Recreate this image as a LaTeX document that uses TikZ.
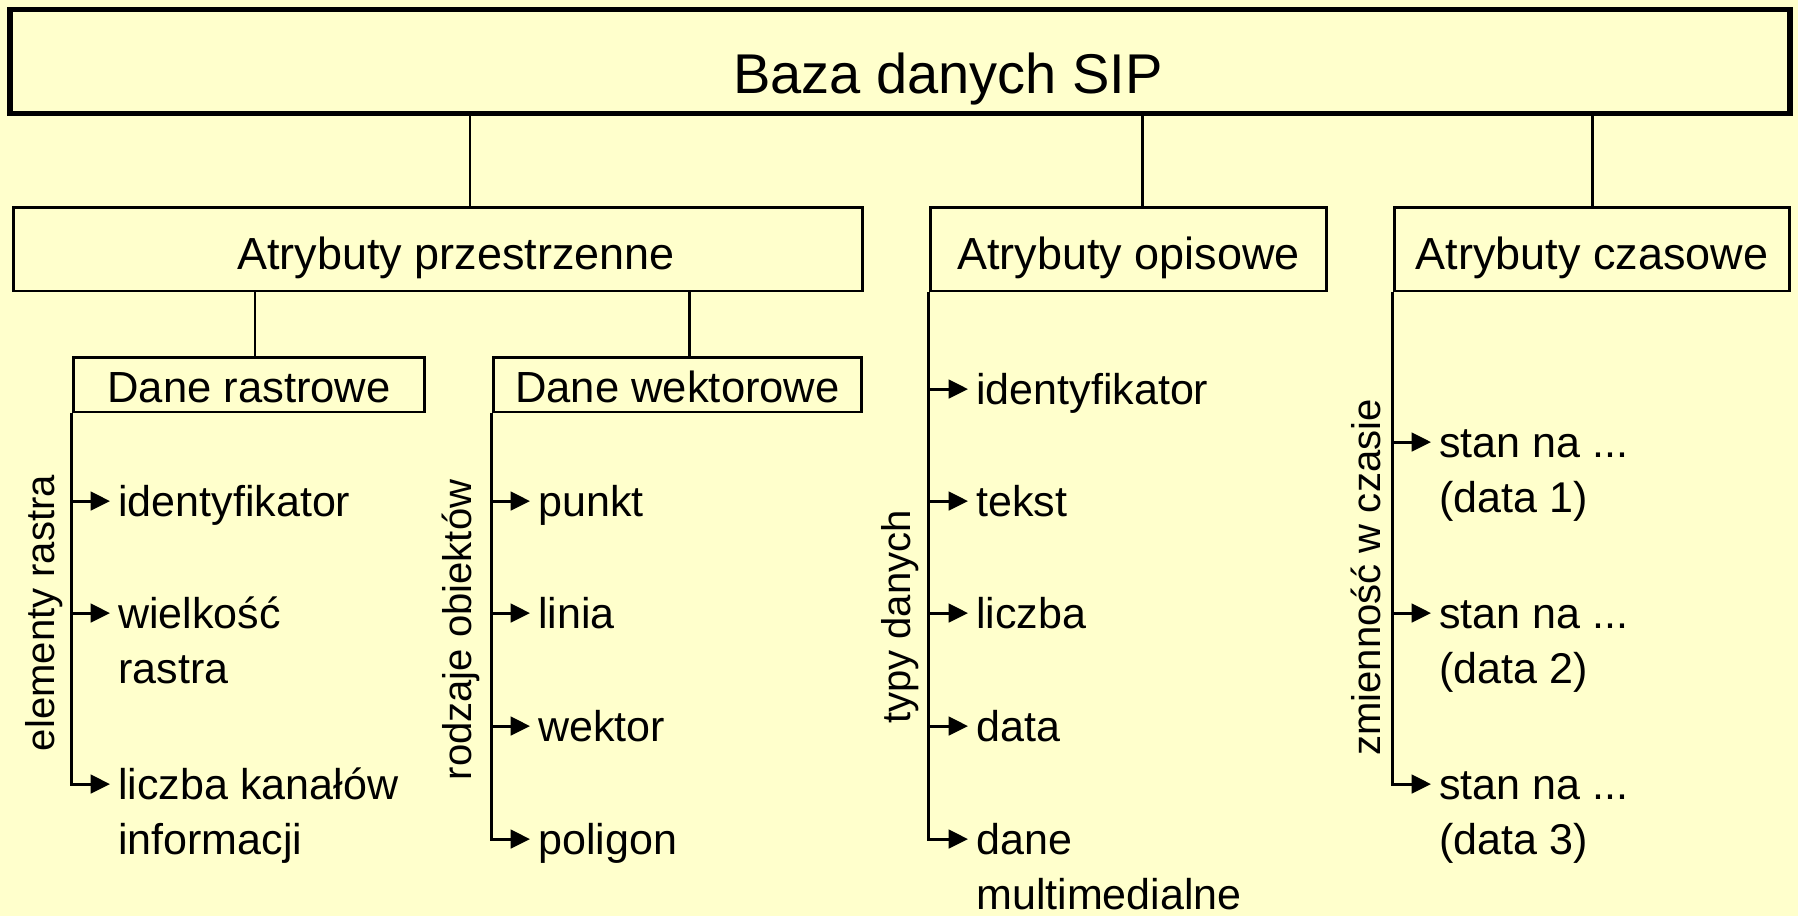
\documentclass[tikz,border=0pt]{standalone}
\usepackage{fontspec}
\setmainfont{Liberation Sans}
\usetikzlibrary{positioning,arrows.meta}
\definecolor{paper}{RGB}{255,255,204}

\begin{document}
\begin{tikzpicture}[
    x=0.02cm, y=-0.02cm,
    % Styles
    mainbox/.style={
        draw, line width=3.4pt, inner sep=0pt,
        minimum width=35.6cm, minimum height=2.08cm,
        font=\fontsize{31.9}{38}\selectfont,
        text height=41.5pt, text depth=5.1pt,
    },
    groupbox/.style={
        draw, line width=1.7pt, inner sep=0pt,
        minimum width=#1, minimum height=1.68cm,
        font=\fontsize{25.6}{31}\selectfont,
        text height=28.2pt, text depth=5.4pt,
    },
    subbox/.style={
        draw, line width=1.7pt, inner sep=0pt,
        minimum width=#1, minimum height=1.1cm,
        font=\fontsize{24.8}{30}\selectfont,
        text height=24.8pt, text depth=4.2pt,
    },
    item/.style={
        anchor=base west, inner xsep=4.5pt, inner ysep=0pt,
        font=\fontsize{24.5}{31.5}\selectfont,
    },
    side/.style={
        rotate=90, anchor=base, inner sep=0pt,
        font=\fontsize{22.8}{27}\selectfont,
    },
    link/.style={line width=1.7pt},
    arr/.style={-{Triangle[length=11pt,width=10.5pt]}, line width=1.7pt},
]

\fill[paper] (0,0) rectangle (1798,916);
\useasboundingbox (0,0) rectangle (1798,916);

% ================================================================
% TOP: BAZA DANYCH
% ================================================================
\node[mainbox] (baza) at (900, 61.5) {\hspace*{1.92cm}Baza danych SIP};

% ================================================================
% ROW 2: ATRYBUTY
% ================================================================
\node[groupbox=17cm] (przestrzenne) at (438, 249) {\hspace*{0.72cm}Atrybuty przestrzenne};
\node[groupbox=7.94cm] (opisowe) at (1128.5, 249) {Atrybuty opisowe};
\node[groupbox=7.92cm] (czasowe) at (1592, 249) {Atrybuty czasowe};

\draw[link] (baza.south -| 470,0) -- (przestrzenne.north -| 470,0);
\draw[link] (baza.south -| 1142,0) -- (opisowe.north -| 1142,0);
\draw[link] (baza.south -| czasowe.north) -- (czasowe.north);

% ================================================================
% ROW 3: DANE RASTROWE / WEKTOROWE
% ================================================================
\node[subbox=7.04cm] (rastrowe) at (249, 384.5) {Dane rastrowe};
\node[subbox=7.38cm] (wektorowe) at (677.5, 384.5) {Dane wektorowe};

\draw[link] (przestrzenne.south -| 255,0) -- (rastrowe.north -| 255,0);
\draw[link] (przestrzenne.south -| 689,0) -- (wektorowe.north -| 689,0);

% ================================================================
% LISTS (arrow 15px above the first baseline)
% ================================================================

% Dane rastrowe
\node[side] (elementy) at (54, 613) {elementy rastra};
\node[item] (r1) at (110, 516) {identyfikator};
\node[item] (r2) at (110, 628) {\begin{tabular}[t]{@{}l@{}}wielkość\\rastra\end{tabular}};
\node[item] (r3) at (110, 799) {\begin{tabular}[t]{@{}l@{}}liczba kanałów\\informacji\end{tabular}};
\draw[arr] (rastrowe.south west) |- ([yshift=8.5pt]r3.base west);
\foreach \n in {r1,r2}
    \draw[arr] ([yshift=8.5pt]\n.base west -| rastrowe.south west) -- ([yshift=8.5pt]\n.base west);

% Dane wektorowe
\node[side] (rodzaje) at (471, 630) {rodzaje obiektów};
\node[item] (w1) at (530, 516) {punkt};
\node[item] (w2) at (530, 628) {linia};
\node[item] (w3) at (530, 741) {wektor};
\node[item] (w4) at (530, 854) {poligon};
\draw[arr] (wektorowe.south west) |- ([yshift=8.5pt]w4.base west);
\foreach \n in {w1,w2,w3}
    \draw[arr] ([yshift=8.5pt]\n.base west -| wektorowe.south west) -- ([yshift=8.5pt]\n.base west);

% Atrybuty opisowe
\node[side] (typy) at (910, 617) {typy danych};
\node[item] (o1) at (968, 404) {identyfikator};
\node[item] (o2) at (968, 516) {tekst};
\node[item] (o3) at (968, 628) {liczba};
\node[item] (o4) at (968, 741) {data};
\node[item] (o5) at (968, 854) {\begin{tabular}[t]{@{}l@{}}dane\\multimedialne\end{tabular}};
\draw[arr] (opisowe.south west) |- ([yshift=8.5pt]o5.base west);
\foreach \n in {o1,o2,o3,o4}
    \draw[arr] ([yshift=8.5pt]\n.base west -| opisowe.south west) -- ([yshift=8.5pt]\n.base west);

% Atrybuty czasowe
\node[side] (zmiennosc) at (1380, 577.5) {zmienność w czasie};
\node[item] (c1) at (1431, 457) {\begin{tabular}[t]{@{}l@{}}stan na ...\\(data 1)\end{tabular}};
\node[item] (c2) at (1431, 628) {\begin{tabular}[t]{@{}l@{}}stan na ...\\(data 2)\end{tabular}};
\node[item] (c3) at (1431, 799) {\begin{tabular}[t]{@{}l@{}}stan na ...\\(data 3)\end{tabular}};
\draw[arr] (czasowe.south west) |- ([yshift=8.5pt]c3.base west);
\foreach \n in {c1,c2}
    \draw[arr] ([yshift=8.5pt]\n.base west -| czasowe.south west) -- ([yshift=8.5pt]\n.base west);

\end{tikzpicture}
\end{document}
